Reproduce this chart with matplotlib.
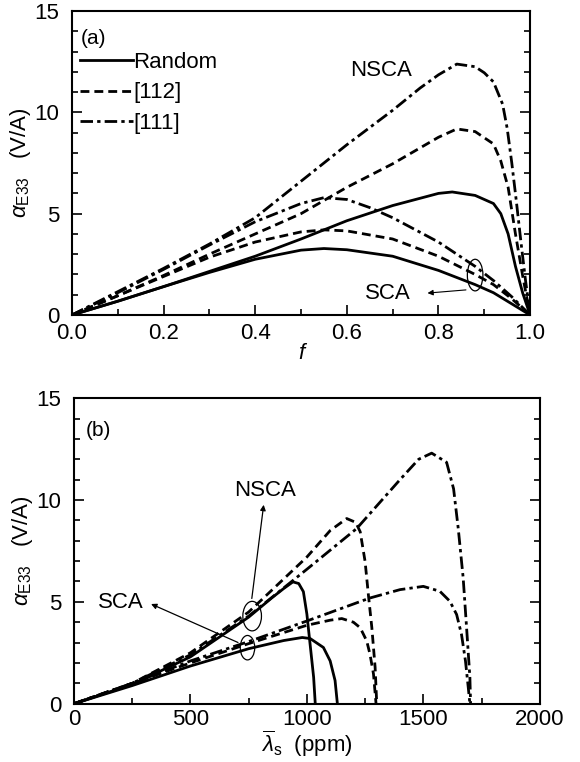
import matplotlib
matplotlib.use('Agg')
from matplotlib import pyplot as plt
from matplotlib.patches import Ellipse
from matplotlib.ticker import MultipleLocator
from matplotlib.lines import Line2D

plt.rcParams['font.family'] = ['Liberation Sans', 'DejaVu Sans']
plt.rcParams['mathtext.fontset'] = 'custom'
plt.rcParams['mathtext.rm'] = 'Liberation Sans'
plt.rcParams['mathtext.it'] = 'Liberation Sans:italic'

# panel (a): alpha_E33 vs volume fraction f
f_nsca_111 = [0, 0.1, 0.2, 0.3, 0.4, 0.5, 0.6, 0.7, 0.76, 0.8, 0.84, 0.88, 0.9, 0.92, 0.94, 0.95, 0.96, 0.97, 0.98, 0.99, 1.0]
a_nsca_111 = [0, 1.15, 2.3, 3.5, 4.8, 6.6, 8.4, 10.1, 11.2, 11.85, 12.38, 12.25, 11.95, 11.5, 10.4, 9.2, 7.5, 5.6, 3.6, 1.7, 0]
f_nsca_112 = [0, 0.1, 0.2, 0.3, 0.4, 0.5, 0.6, 0.7, 0.8, 0.84, 0.88, 0.92, 0.936, 0.952, 0.968, 0.984, 1.0]
a_nsca_112 = [0, 0.95, 1.95, 3.0, 4.0, 5.0, 6.3, 7.46, 8.77, 9.18, 9.05, 8.44, 7.6, 6.3, 4.0, 1.9, 0]
f_nsca_rnd = [0, 0.1, 0.2, 0.3, 0.4, 0.5, 0.6, 0.7, 0.8, 0.83, 0.88, 0.92, 0.936, 0.952, 0.968, 0.984, 1.0]
a_nsca_rnd = [0, 0.68, 1.4, 2.15, 2.9, 3.75, 4.65, 5.4, 6.0, 6.07, 5.9, 5.5, 5.0, 4.0, 2.4, 1.07, 0]
f_sca_111 = [0, 0.1, 0.2, 0.3, 0.4, 0.5, 0.55, 0.6, 0.65, 0.7, 0.8, 0.88, 0.92, 0.96, 1.0]
a_sca_111 = [0, 1.1, 2.25, 3.45, 4.6, 5.5, 5.79, 5.7, 5.3, 4.8, 3.6, 2.4, 1.7, 0.9, 0]
f_sca_112 = [0, 0.1, 0.2, 0.3, 0.4, 0.5, 0.55, 0.6, 0.7, 0.8, 0.88, 0.92, 0.96, 1.0]
a_sca_112 = [0, 0.95, 1.9, 2.85, 3.6, 4.1, 4.2, 4.15, 3.75, 2.9, 2.0, 1.5, 0.8, 0]
f_sca_rnd = [0, 0.1, 0.2, 0.3, 0.4, 0.5, 0.55, 0.6, 0.7, 0.8, 0.88, 0.92, 0.96, 1.0]
a_sca_rnd = [0, 0.68, 1.4, 2.1, 2.75, 3.2, 3.28, 3.22, 2.9, 2.2, 1.5, 1.1, 0.55, 0]

# panel (b): alpha_E33 vs saturation magnetostriction (ppm)
l_nsca_111 = [0, 250, 500, 750, 1000, 1214, 1400, 1480, 1536, 1600, 1630, 1650, 1671, 1686, 1700, 1703]
b_nsca_111 = [0, 1.0, 2.4, 4.3, 6.6, 8.6, 11.0, 12.0, 12.3, 11.85, 10.55, 8.6, 6.2, 3.7, 1.3, 0]
l_nsca_112 = [0, 250, 500, 750, 1000, 1100, 1171, 1210, 1229, 1250, 1264, 1279, 1293, 1300]
b_nsca_112 = [0, 1.0, 2.5, 4.5, 7.2, 8.5, 9.09, 8.9, 8.44, 6.98, 5.36, 3.73, 1.79, 0]
l_nsca_rnd = [0, 250, 500, 750, 850, 900, 940, 965, 985, 1000, 1014, 1029, 1036]
b_nsca_rnd = [0, 0.95, 2.3, 4.25, 5.2, 5.65, 5.98, 5.9, 5.5, 4.4, 2.9, 1.3, 0]
l_sca_111 = [0, 250, 500, 750, 1000, 1271, 1400, 1500, 1571, 1614, 1643, 1664, 1681, 1693, 1700]
b_sca_111 = [0, 1.0, 2.1, 3.05, 4.06, 5.19, 5.6, 5.76, 5.52, 5.03, 4.38, 3.4, 2.1, 0.8, 0]
l_sca_112 = [0, 250, 500, 750, 1000, 1100, 1150, 1200, 1229, 1257, 1271, 1286, 1297]
b_sca_112 = [0, 1.0, 2.0, 2.95, 3.85, 4.1, 4.18, 4.0, 3.73, 3.08, 2.43, 1.46, 0]
l_sca_rnd = [0, 250, 500, 750, 900, 980, 1014, 1071, 1100, 1121, 1131]
b_sca_rnd = [0, 0.89, 1.85, 2.7, 3.1, 3.25, 3.2, 2.76, 2.1, 1.14, 0]

labels = ['Random', '[112]', '[111]']
styles = ['-', (0, (3.2, 1.8)), (0, (4.5, 1.5, 1.2, 1.5))]
lw = 2.0
fs = 16

fig = plt.figure(figsize=(5.8, 7.62), dpi=100)
ax1 = fig.add_axes([0.124, 0.5866, 0.790, 0.399])
ax2 = fig.add_axes([0.1276, 0.0765, 0.803, 0.401])


def style_axes(ax):
    for s in ax.spines.values():
        s.set_linewidth(1.5)
    ax.tick_params(which='both', direction='in', right=True, top=False,
                   labelsize=fs, width=1.2)
    ax.tick_params(axis='x', pad=6)
    ax.tick_params(axis='y', pad=9)
    ax.tick_params(which='major', length=7)
    ax.tick_params(which='minor', length=4)
    ax.yaxis.set_major_locator(MultipleLocator(5))
    ax.yaxis.set_minor_locator(MultipleLocator(1))
    ax.set_ylim(0, 15)
    ax.set_ylabel(r'$\alpha_{\rm E33}$   (V/A)', fontsize=fs, labelpad=1)


# (a)
ax1.plot(f_nsca_rnd, a_nsca_rnd, color='k', lw=lw, ls=styles[0])
ax1.plot(f_nsca_112, a_nsca_112, color='k', lw=lw, ls=styles[1])
ax1.plot(f_nsca_111, a_nsca_111, color='k', lw=lw, ls=styles[2])
ax1.plot(f_sca_rnd, a_sca_rnd, color='k', lw=lw, ls=styles[0])
ax1.plot(f_sca_112, a_sca_112, color='k', lw=lw, ls=styles[1])
ax1.plot(f_sca_111, a_sca_111, color='k', lw=lw, ls=styles[2])
style_axes(ax1)
ax1.set_xlim(0, 1)
ax1.xaxis.set_major_locator(MultipleLocator(0.2))
ax1.xaxis.set_minor_locator(MultipleLocator(0.1))
ax1.xaxis.set_major_formatter(matplotlib.ticker.FormatStrFormatter('%.1f'))
ax1.set_xlabel('f', fontsize=fs, style='italic', labelpad=-1)

handles = [Line2D([], [], color='k', lw=lw, ls=s) for s in styles]
ax1.legend(handles, labels, loc='upper left', bbox_to_anchor=(0.017, 0.865),
           frameon=False, fontsize=fs, handlelength=2.4, handletextpad=0.0,
           labelspacing=0.42, borderpad=0, borderaxespad=0)
ax1.text(0.02, 0.91, '(a)', transform=ax1.transAxes, fontsize=15, va='center')
ax1.text(0.675, 12.05, 'NSCA', fontsize=fs, ha='center', va='center')
ax1.text(0.69, 1.07, 'SCA', fontsize=fs, ha='center', va='center')
ax1.add_patch(Ellipse((0.88, 1.97), 0.034, 1.56, fill=False, lw=0.9, color='k'))
ax1.annotate('', xy=(0.77, 1.07), xytext=(0.866, 1.25),
             arrowprops=dict(arrowstyle='-|>', lw=0.8, color='k', mutation_scale=8))

# (b)
ax2.plot(l_nsca_rnd, b_nsca_rnd, color='k', lw=lw, ls=styles[0])
ax2.plot(l_nsca_112, b_nsca_112, color='k', lw=lw, ls=styles[1])
ax2.plot(l_nsca_111, b_nsca_111, color='k', lw=lw, ls=styles[2])
ax2.plot(l_sca_rnd, b_sca_rnd, color='k', lw=lw, ls=styles[0])
ax2.plot(l_sca_112, b_sca_112, color='k', lw=lw, ls=styles[1])
ax2.plot(l_sca_111, b_sca_111, color='k', lw=lw, ls=styles[2])
style_axes(ax2)
ax2.tick_params(axis='x', pad=4)
ax2.set_xlim(0, 2000)
ax2.xaxis.set_major_locator(MultipleLocator(500))
ax2.xaxis.set_minor_locator(MultipleLocator(250))
ax2.set_xlabel(r'$\overline{\lambda}_{\rm s}$  (ppm)', fontsize=fs, labelpad=-1)
ax2.text(0.025, 0.893, '(b)', transform=ax2.transAxes, fontsize=15, va='center')
ax2.text(820, 10.47, 'NSCA', fontsize=fs, ha='center', va='center')
ax2.text(200, 4.98, 'SCA', fontsize=fs, ha='center', va='center')
ax2.add_patch(Ellipse((765, 4.3), 80, 1.45, fill=False, lw=0.9, color='k'))
ax2.add_patch(Ellipse((745, 2.75), 62, 1.2, fill=False, lw=0.9, color='k'))
ax2.annotate('', xy=(816, 9.9), xytext=(762, 5.03),
             arrowprops=dict(arrowstyle='-|>', lw=0.9, color='k', mutation_scale=8))
ax2.annotate('', xy=(320, 4.95), xytext=(715, 2.95),
             arrowprops=dict(arrowstyle='-|>', lw=0.9, color='k', mutation_scale=8))

fig.savefig('out.png', dpi=100)
